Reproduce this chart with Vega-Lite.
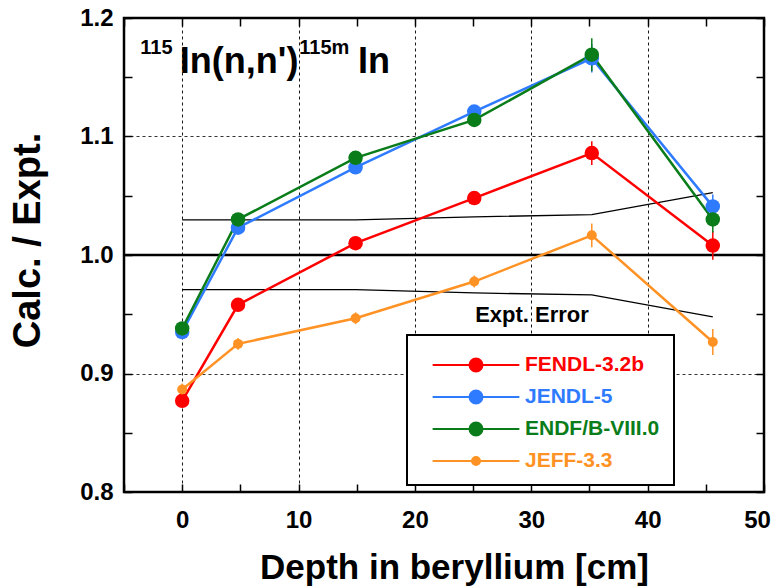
{
  "$schema": "https://vega.github.io/schema/vega-lite/v6.json",
  "width": 640,
  "height": 474,
  "autosize": {"type": "none"},
  "padding": {"left": 124, "top": 18, "right": 12, "bottom": 96},
  "background": "white",
  "config": {
    "view": {"stroke": "black", "strokeWidth": 2.5},
    "font": "Liberation Sans"
  },
  "datasets": {
    "calc": [
      {"series": "FENDL-3.2b", "depth": 0, "val": 0.877, "err": 0.005},
      {"series": "FENDL-3.2b", "depth": 4.8, "val": 0.958, "err": 0.005},
      {"series": "FENDL-3.2b", "depth": 14.9, "val": 1.010, "err": 0.005},
      {"series": "FENDL-3.2b", "depth": 25.1, "val": 1.048, "err": 0.005},
      {"series": "FENDL-3.2b", "depth": 35.2, "val": 1.086, "err": 0.010},
      {"series": "FENDL-3.2b", "depth": 45.6, "val": 1.008, "err": 0.012},
      {"series": "JENDL-5", "depth": 0, "val": 0.935, "err": 0.005},
      {"series": "JENDL-5", "depth": 4.8, "val": 1.023, "err": 0.005},
      {"series": "JENDL-5", "depth": 14.9, "val": 1.074, "err": 0.005},
      {"series": "JENDL-5", "depth": 25.1, "val": 1.121, "err": 0.005},
      {"series": "JENDL-5", "depth": 35.2, "val": 1.166, "err": 0.012},
      {"series": "JENDL-5", "depth": 45.6, "val": 1.041, "err": 0.010},
      {"series": "ENDF/B-VIII.0", "depth": 0, "val": 0.938, "err": 0.005},
      {"series": "ENDF/B-VIII.0", "depth": 4.8, "val": 1.030, "err": 0.005},
      {"series": "ENDF/B-VIII.0", "depth": 14.9, "val": 1.082, "err": 0.005},
      {"series": "ENDF/B-VIII.0", "depth": 25.1, "val": 1.114, "err": 0.005},
      {"series": "ENDF/B-VIII.0", "depth": 35.2, "val": 1.169, "err": 0.014},
      {"series": "ENDF/B-VIII.0", "depth": 45.6, "val": 1.030, "err": 0.011},
      {"series": "JEFF-3.3", "depth": 0, "val": 0.8865, "err": 0.005},
      {"series": "JEFF-3.3", "depth": 4.8, "val": 0.925, "err": 0.005},
      {"series": "JEFF-3.3", "depth": 14.9, "val": 0.9466, "err": 0.005},
      {"series": "JEFF-3.3", "depth": 25.1, "val": 0.9776, "err": 0.005},
      {"series": "JEFF-3.3", "depth": 35.2, "val": 1.0166, "err": 0.010},
      {"series": "JEFF-3.3", "depth": 45.6, "val": 0.9266, "err": 0.011}
    ],
    "expt": [
      {"bound": "upper", "depth": 0, "val": 1.0296},
      {"bound": "upper", "depth": 4.8, "val": 1.0296},
      {"bound": "upper", "depth": 14.9, "val": 1.0296},
      {"bound": "upper", "depth": 25.1, "val": 1.0322},
      {"bound": "upper", "depth": 35.2, "val": 1.034},
      {"bound": "upper", "depth": 45.6, "val": 1.0526},
      {"bound": "lower", "depth": 0, "val": 0.9708},
      {"bound": "lower", "depth": 4.8, "val": 0.9708},
      {"bound": "lower", "depth": 14.9, "val": 0.9708},
      {"bound": "lower", "depth": 25.1, "val": 0.968},
      {"bound": "lower", "depth": 35.2, "val": 0.9663},
      {"bound": "lower", "depth": 45.6, "val": 0.9477}
    ]
  },
  "resolve": {"axis": {"x": "independent", "y": "independent"}},
  "layer": [
    {
      "data": {"name": "expt"},
      "mark": {"type": "line", "color": "black", "strokeWidth": 1.3},
      "encoding": {
        "x": {"field": "depth", "type": "quantitative", "scale": {"domain": [-5, 50], "nice": false, "zero": false},
          "axis": {"orient": "top", "values": [-5, 0, 5, 10, 15, 20, 25, 30, 35, 40, 45, 50], "labels": false, "tickSize": -8, "tickColor": "black", "tickWidth": 1.5, "domain": false, "grid": false, "title": null}},
        "y": {"field": "val", "type": "quantitative", "scale": {"domain": [0.8, 1.2], "nice": false, "zero": false},
          "axis": {"orient": "right", "values": [0.8, 0.85, 0.9, 0.95, 1.0, 1.05, 1.1, 1.15, 1.2], "labels": false, "tickSize": -8, "tickColor": "black", "tickWidth": 1.5, "domain": false, "grid": false, "title": null}},
        "detail": {"field": "bound"}
      }
    },
    {
      "data": {"values": [{}]},
      "mark": {"type": "rule", "color": "black", "strokeWidth": 2.5},
      "encoding": {"y": {"datum": 1, "type": "quantitative", "axis": null}}
    },
    {
      "data": {"name": "calc"},
      "mark": {"type": "line", "strokeWidth": 2.5},
      "encoding": {
        "x": {"field": "depth", "type": "quantitative",
          "axis": {"orient": "bottom", "values": [-5, 0, 5, 10, 15, 20, 25, 30, 35, 40, 45, 50],
            "labelExpr": "datum.value % 10 === 0 && datum.value >= 0 ? datum.label : ''",
            "labelFont": "Liberation Sans", "labelFontSize": 24, "labelFontWeight": "bold", "labelColor": "black",
            "labelPadding": 24, "labelFlush": false, "labelOverlap": false,
            "labelOffset": {"condition": {"test": "datum.value === 50", "value": -7}, "value": 0},
            "tickSize": -8, "tickColor": "black", "tickWidth": 1.5, "domain": false,
            "grid": true, "gridColor": "black", "gridDash": [3, 3], "gridWidth": 1,
            "gridOpacity": {"condition": {"test": "datum.value % 10 === 0 && datum.value >= 0 && datum.value < 50", "value": 0.9}, "value": 0},
            "title": "Depth in beryllium [cm]", "titleFont": "Liberation Sans", "titleFontSize": 35, "titleFontWeight": "bold", "titleColor": "black", "titlePadding": 18, "titleX": 330}},
        "y": {"field": "val", "type": "quantitative",
          "axis": {"orient": "left", "values": [0.8, 0.85, 0.9, 0.95, 1.0, 1.05, 1.1, 1.15, 1.2], "format": ".1f",
            "labelExpr": "round(datum.value * 100) % 10 === 0 ? datum.label : ''",
            "labelFont": "Liberation Sans", "labelFontSize": 24, "labelFontWeight": "bold", "labelColor": "black",
            "labelPadding": 19, "labelFlush": false, "labelOverlap": false,
            "tickSize": -8, "tickColor": "black", "tickWidth": 1.5, "domain": false,
            "grid": true, "gridColor": "black", "gridDash": [3, 3], "gridWidth": 1,
            "gridOpacity": {"condition": {"test": "round(datum.value * 100) % 10 === 0 && datum.value > 0.85 && datum.value < 1.15", "value": 0.8}, "value": 0},
            "title": "Calc. / Expt.", "titleFont": "Liberation Sans", "titleFontSize": 38, "titleFontWeight": "bold", "titleColor": "black", "titlePadding": 32, "titleY": 222}},
        "color": {"field": "series", "type": "nominal",
          "scale": {"domain": ["FENDL-3.2b", "JENDL-5", "ENDF/B-VIII.0", "JEFF-3.3"], "range": ["#ff0000", "#2f7bff", "#0a7d1a", "#ff9224"]},
          "legend": {
            "orient": "none", "legendX": 283, "legendY": 317, "title": null,
            "strokeColor": "black", "fillColor": "white", "padding": 14,
            "symbolSize": 870, "symbolStrokeWidth": 2, "symbolOffset": 39,
            "symbolType": "M-2.94,0H2.94M0.44,0A0.44,0.44,0,1,1,-0.44,0A0.44,0.44,0,1,1,0.44,0Z",
            "labelFont": "Liberation Sans", "labelFontSize": 21, "labelFontWeight": "bold",
            "labelOffset": 33, "rowPadding": 5, "labelLimit": 300,
            "encode": {
              "legend": {"update": {"strokeWidth": {"value": 2}}},
              "symbols": {"update": {
                "fill": {"scale": "color", "field": "value"},
                "stroke": {"scale": "color", "field": "value"},
                "strokeWidth": {"value": 2},
                "opacity": {"value": 1},
                "shape": {"signal": "datum.value === 'JEFF-3.3' ? 'M-2.94,0H2.94M0.27,0A0.27,0.27,0,1,1,-0.27,0A0.27,0.27,0,1,1,0.27,0Z' : 'M-2.94,0H2.94M0.44,0A0.44,0.44,0,1,1,-0.44,0A0.44,0.44,0,1,1,0.44,0Z'"}
              }},
              "labels": {"update": {"fill": {"scale": "color", "field": "value"}}}
            }
          }}
      }
    },
    {
      "data": {"name": "calc"},
      "mark": {"type": "errorbar", "thickness": 1.5},
      "encoding": {
        "x": {"field": "depth", "type": "quantitative", "axis": null},
        "y": {"field": "val", "type": "quantitative", "axis": null},
        "yError": {"field": "err"},
        "color": {"field": "series", "type": "nominal"}
      }
    },
    {
      "data": {"name": "calc"},
      "mark": {"type": "point", "filled": true, "opacity": 1},
      "encoding": {
        "x": {"field": "depth", "type": "quantitative", "axis": null},
        "y": {"field": "val", "type": "quantitative", "axis": null},
        "size": {"condition": {"test": "datum.series === 'JEFF-3.3'", "value": 100}, "value": 210},
        "color": {"field": "series", "type": "nominal"}
      }
    },
    {
      "data": {"values": [{"depth": -3.6, "val": 1.170, "txt": "115"}, {"depth": 10.06, "val": 1.170, "txt": "115m"}]},
      "mark": {"type": "text", "font": "Liberation Sans", "fontWeight": "bold", "fontSize": 20, "align": "left", "baseline": "alphabetic", "color": "black"},
      "encoding": {
        "x": {"field": "depth", "type": "quantitative", "axis": null},
        "y": {"field": "val", "type": "quantitative", "axis": null},
        "text": {"field": "txt"}
      }
    },
    {
      "data": {"values": [{"depth": -0.2, "val": 1.154, "txt": "In(n,n')"}, {"depth": 15.1, "val": 1.154, "txt": "In"}]},
      "mark": {"type": "text", "font": "Liberation Sans", "fontWeight": "bold", "fontSize": 36, "align": "left", "baseline": "alphabetic", "color": "black"},
      "encoding": {
        "x": {"field": "depth", "type": "quantitative", "axis": null},
        "y": {"field": "val", "type": "quantitative", "axis": null},
        "text": {"field": "txt"}
      }
    },
    {
      "data": {"values": [{"depth": 30.06, "val": 0.9435, "txt": "Expt. Error"}]},
      "mark": {"type": "text", "font": "Liberation Sans", "fontWeight": "bold", "fontSize": 22, "align": "center", "baseline": "alphabetic", "color": "black"},
      "encoding": {
        "x": {"field": "depth", "type": "quantitative", "axis": null},
        "y": {"field": "val", "type": "quantitative", "axis": null},
        "text": {"field": "txt"}
      }
    }
  ]
}
